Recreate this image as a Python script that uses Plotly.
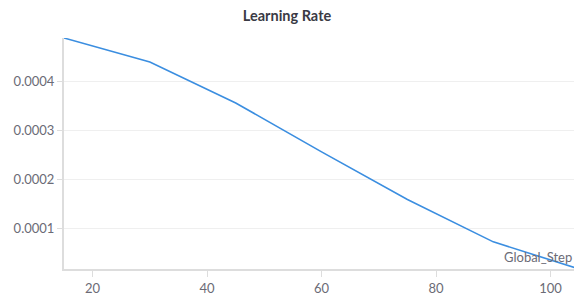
import plotly.graph_objects as go

steps = [15, 30, 45, 60, 75, 90, 105]
learning_rate = [0.0004886, 0.0004396, 0.0003559, 0.0002559, 0.0001586, 0.0000722, 0.0000168]
y_ticks = [0.0001, 0.0002, 0.0003, 0.0004]
y_tick_labels = ["0.0001", "0.0002", "0.0003", "0.0004"]
x_ticks = [20, 40, 60, 80, 100]

FONT = "Lato, 'Source Sans Pro', 'Noto Sans', sans-serif"
TICK_COLOR = "#6b6b76"

fig = go.Figure()
fig.add_trace(go.Scatter(
    x=steps, y=learning_rate, mode="lines",
    line=dict(color="#3b8ee0", width=1.6),
    hoverinfo="x+y", showlegend=False,
))

fig.update_layout(
    width=574, height=297,
    margin=dict(l=64, r=0, t=38, b=28),
    paper_bgcolor="white", plot_bgcolor="white",
    font=dict(family=FONT, size=13, color=TICK_COLOR),
    title=dict(text="<b>Learning Rate</b>", x=0.5, xanchor="center", y=0.945, yanchor="middle",
               font=dict(family=FONT, size=14.5, color="#3a3a44")),
    xaxis=dict(
        range=[15, 104.1], tickvals=x_ticks, ticks="outside", ticklen=6, tickcolor="#dddddd",
        showgrid=False, zeroline=False, showline=True, linecolor="#dddddd", linewidth=2,
        tickfont=dict(size=13, color=TICK_COLOR, family=FONT),
    ),
    yaxis=dict(
        range=[0.0000168, 0.0004886], tickvals=y_ticks, ticktext=y_tick_labels,
        ticks="outside", ticklen=5, tickcolor="#dddddd",
        showgrid=True, gridcolor="#efefef", gridwidth=1, zeroline=False,
        showline=True, linecolor="#dddddd", linewidth=2,
        tickfont=dict(size=13, color=TICK_COLOR, family=FONT),
    ),
    annotations=[dict(
        text="Global_Step", xref="paper", yref="paper", x=1.0, y=0.0,
        xanchor="right", yanchor="bottom", yshift=2, showarrow=False,
        font=dict(size=13, color=TICK_COLOR, family=FONT),
    )],
)

fig.write_html("out.html", config={"displayModeBar": False},
               post_script="document.body.style.margin='0';document.body.style.overflow='hidden';")
